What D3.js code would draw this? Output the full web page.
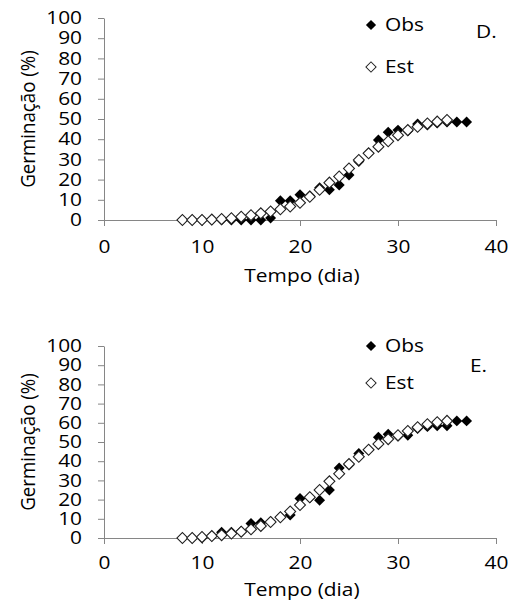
<!DOCTYPE html>
<html>
<head>
<meta charset="utf-8">
<script src="https://cdn.jsdelivr.net/npm/d3@7"></script>
<style>
  html, body { margin: 0; padding: 0; background: #fff; }
  svg { display: block; font-family: "Open Sans", Lato, sans-serif; }
</style>
</head>
<body>
<div id="chart"></div>
<script>
// ---- dados ----
const DAYS = d3.range(8, 38);           // 8..37
const X_TICKS = [0, 10, 20, 30, 40];
const Y_TICKS = [0, 10, 20, 30, 40, 50, 60, 70, 80, 90, 100];

// Painel D
const obsD = [0, 0, 0, 0, 0, 0, 0, 0, 0, 1, 9.5, 9.5, 12.5, 12, 16, 15, 17.3, 22.3, 29, 33,
              39.6, 43.5, 44.5, 44, 47.5, 47, 48, 48.5, 48.5, 48.5];
const estD = [0, 0, 0, 0.2, 0.5, 0.9, 1.6, 2.4, 3.3, 4.2, 5.3, 6.7, 8.5, 11.5, 15, 18.5,
              21.5, 25.5, 29.7, 33, 36.3, 39, 42, 44.5, 46.2, 47.8, 48.7, 49.5];

// Painel E
const obsE = [0, 0, 0, 1, 3, 3, 3.5, 7.5, 8, 8.6, 11, 12, 20.6, 21, 19.7, 25, 36.5, 38, 44, 46,
              52.5, 54, 53, 53.5, 57, 58, 58.5, 58.5, 61, 61];
const estE = [0, 0, 0.5, 1, 1.5, 2.3, 3.3, 4.5, 6.3, 8.3, 10.8, 13.8, 17.2, 21.2, 25, 29.5,
              33.5, 38.5, 42.3, 46, 49, 51.5, 53.5, 55.7, 57.7, 59.3, 60.3, 61];

const X_TITLE = "Tempo (dia)";
const Y_TITLE = "Germinação (%)";

const AXIS_COLOR = "#868686";
const TEXT_COLOR = "#000";
const FONT_SIZE = 18;
const STRETCH = 1.16;   // o texto original é mais largo (Calibri esticado)

const svg = d3.select("#chart").append("svg")
  .attr("width", 510)
  .attr("height", 610);

const diamond = d3.symbol().type(d3.symbolSquare).size(60);
const small = d3.symbol().type(d3.symbolSquare).size(52);

// estica horizontalmente um texto em torno do seu ponto de ancoragem
function stretch(sel, s = STRETCH) {
  sel.each(function () {
    const t = d3.select(this);
    const ax = +t.attr("x") || 0;
    const ay = +t.attr("y") || 0;
    t.attr("transform", `translate(${ax},${ay}) scale(${s},1) translate(${-ax},${-ay})`);
  });
}

function drawPanel(opt) {
  const x = d3.scaleLinear().domain([0, 40]).range([104, 496]);
  const y = d3.scaleLinear().domain([0, 100]).range([opt.y0, opt.y100]);

  const g = svg.append("g");

  // eixo Y
  const yAxis = g.append("g")
    .attr("transform", `translate(${x(0)},0)`)
    .call(d3.axisLeft(y).tickValues(Y_TICKS).tickSize(6).tickSizeOuter(0).tickPadding(16));

  // eixo X
  const xAxis = g.append("g")
    .attr("transform", `translate(0,${y(0)})`)
    .call(d3.axisBottom(x).tickValues(X_TICKS).tickSize(6).tickSizeOuter(0).tickPadding(opt.xPad));

  [yAxis, xAxis].forEach(a => {
    a.selectAll("path, line").attr("stroke", AXIS_COLOR).attr("stroke-width", 1);
    a.selectAll("text")
      .attr("fill", TEXT_COLOR)
      .style("font-size", FONT_SIZE + "px")
      .style("font-family", "'Open Sans', Lato, sans-serif")
      .call(stretch);
  });

  // títulos
  g.append("text")
    .attr("x", 302)
    .attr("y", y(0) + opt.titleOff)
    .attr("text-anchor", "middle")
    .attr("fill", TEXT_COLOR)
    .style("font-size", FONT_SIZE + "px")
    .text(X_TITLE)
    .call(stretch);

  g.append("text")
    .attr("transform", `translate(35,${(y(0) + y(100)) / 2}) rotate(-90) scale(1.04,1.08)`)
    .attr("text-anchor", "middle")
    .attr("fill", TEXT_COLOR)
    .style("font-size", FONT_SIZE + "px")
    .text(Y_TITLE);

  // séries: Obs primeiro, Est por cima
  g.append("g").selectAll("path")
    .data(opt.obs.map((v, i) => [DAYS[i], v]))
    .join("path")
    .attr("d", diamond)
    .attr("transform", d => `translate(${x(d[0])},${y(d[1])}) rotate(45)`)
    .attr("fill", "#000");

  g.append("g").selectAll("path")
    .data(opt.est.map((v, i) => [DAYS[i], v]))
    .join("path")
    .attr("d", diamond)
    .attr("transform", d => `translate(${x(d[0])},${y(d[1])}) rotate(45)`)
    .attr("fill", "#fff")
    .attr("stroke", "#222")
    .attr("stroke-width", 1.1);

  // legenda
  const leg = g.append("g");
  [["Obs", true, opt.legY[0]], ["Est", false, opt.legY[1]]].forEach(([name, filled, ly]) => {
    leg.append("path")
      .attr("d", small)
      .attr("transform", `translate(371,${ly}) rotate(45)`)
      .attr("fill", filled ? "#000" : "#fff")
      .attr("stroke", filled ? "none" : "#222")
      .attr("stroke-width", 1);
    leg.append("text")
      .attr("x", 385)
      .attr("y", ly)
      .attr("dy", "0.35em")
      .attr("fill", TEXT_COLOR)
      .style("font-size", FONT_SIZE + "px")
      .text(name)
      .call(stretch);
  });

  g.append("text")
    .attr("x", opt.labelX)
    .attr("y", opt.labelY)
    .attr("dy", "0.35em")
    .attr("fill", TEXT_COLOR)
    .style("font-size", FONT_SIZE + "px")
    .text(opt.label)
    .call(stretch);
}

drawPanel({ obs: obsD, est: estD, y0: 220, y100: 18, xPad: 14, titleOff: 62,
            legY: [25, 67], label: "D.", labelX: 476, labelY: 32 });
drawPanel({ obs: obsE, est: estE, y0: 538, y100: 346, xPad: 12, titleOff: 58,
            legY: [346, 383], label: "E.", labelX: 470, labelY: 366 });
</script>
</body>
</html>
